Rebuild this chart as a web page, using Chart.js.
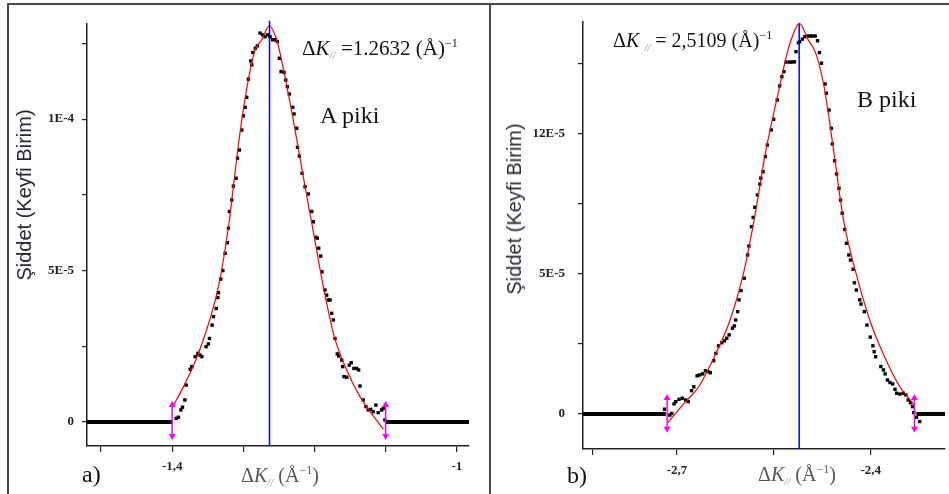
<!DOCTYPE html>
<html>
<head>
<meta charset="utf-8">
<script src="https://cdn.jsdelivr.net/npm/chart.js@4.4.1/dist/chart.umd.min.js"></script>
<style>
  body { margin: 0; width: 949px; height: 494px; background: #fff; position: relative; overflow: hidden; }
  canvas { position: absolute; top: 0; }
  #chartA { left: 0; }
  #chartB { left: 490px; }
  .frame { position: absolute; border-style: solid; border-color: #4a4a4a; pointer-events: none; }
  .txt { position: absolute; white-space: nowrap; font-family: "Liberation Serif", "Times New Roman", serif; color: #111; line-height: 1; }
  .ytitle { position: absolute; white-space: nowrap; line-height: 1; font-family: "Liberation Sans", Arial, sans-serif;
            font-size: 20px; color: #262636; transform: translate(-50%, -50%) rotate(-90deg); }
  .sb { font-size: 11px; font-style: italic; color: #8a93b0; vertical-align: -4px; }
  .sp { font-size: 12px; vertical-align: 8px; }
</style>
</head>
<body>
<canvas id="chartA" width="489" height="494"></canvas>
<canvas id="chartB" width="459" height="494"></canvas>

<div class="frame" style="left:7px; top:3px; width:480px; height:520px; border-width:2px 2px 0 2px;"></div>
<div class="frame" style="left:489px; top:3px; width:470px; height:0; border-width:2px 0 0 0;"></div>

<div class="ytitle" style="left:24px; top:195px;">Şiddet (Keyfi Birim)</div>
<div class="txt" style="left:302px; top:37px; font-size:21px;">Δ<i>K</i><span class="sb">//</span> =1.2632 (Å)<span class="sp">−1</span></div>
<div class="txt" style="left:320px; top:103px; font-size:24px;">A piki</div>
<div class="txt" style="left:82px; top:462px; font-size:24px;">a)</div>
<div class="txt" style="left:241px; top:464px; font-size:20px; color:#555;">Δ<i>K</i><span class="sb">//</span> (Å<span class="sp">−1</span>)</div>

<div class="ytitle" style="left:514px; top:209px;">Şiddet (Keyfi Birim)</div>
<div class="txt" style="left:613px; top:29px; font-size:20px;">Δ<i>K</i> <span class="sb">//</span> = 2,5109 (Å)<span class="sp">−1</span></div>
<div class="txt" style="left:857px; top:87px; font-size:24px;">B piki</div>
<div class="txt" style="left:567px; top:463px; font-size:24px;">b)</div>
<div class="txt" style="left:758px; top:463px; font-size:20px; color:#555;">Δ<i>K</i><span class="sb">//</span> (Å<span class="sp">−1</span>)</div>

<script>
// ---- panel a) : A piki ----
const aDataX = [-1.2765, -1.2727, -1.2695, -1.2803, -1.2831, -1.2867, -1.2895, -1.2881, -1.2929, -1.2952,
  -1.2975, -1.2999, -1.3022, -1.3055, -1.3083, -1.3102, -1.3140, -1.3162, -1.3196, -1.3210,
  -1.3224, -1.3256, -1.3288, -1.3316, -1.3350, -1.3359, -1.3382, -1.3420, -1.3439, -1.3476,
  -1.3491, -1.3523, -1.3583, -1.3607, -1.3639, -1.3677, -1.3724, -1.3747, -1.3804, -1.3822,
  -1.3855, -1.3878, -1.3912, -1.3944,
  -1.2662, -1.2625, -1.2587, -1.2550, -1.2522, -1.2494, -1.2470, -1.2428, -1.2404, -1.2382,
  -1.2354, -1.2306, -1.2288, -1.2250, -1.2239, -1.2213, -1.2175, -1.2133, -1.2087, -1.2039,
  -1.2017, -1.1983, -1.1961, -1.1941, -1.1913, -1.1895, -1.1853, -1.1829, -1.1806, -1.1782,
  -1.1759, -1.1736, -1.1712, -1.1680, -1.1660, -1.1618, -1.1604, -1.1586, -1.1548, -1.1512,
  -1.1484, -1.1446, -1.1408, -1.1380, -1.1361, -1.1315, -1.1277, -1.1245, -1.1211, -1.1175,
  -1.1137, -1.1105, -1.1057, -1.1034, -1.1011];
const aDataY = [12.84e-5, 12.78e-5, 12.72e-5, 12.42e-5, 12.34e-5, 12.20e-5, 11.92e-5, 11.79e-5, 11.32e-5, 10.72e-5,
  10.39e-5, 10.11e-5, 9.64e-5, 8.98e-5, 8.71e-5, 8.05e-5, 7.79e-5, 7.33e-5, 6.95e-5, 6.40e-5,
  5.92e-5, 5.57e-5, 5.00e-5, 4.72e-5, 4.27e-5, 4.11e-5, 3.75e-5, 3.48e-5, 3.20e-5, 2.76e-5,
  2.58e-5, 2.49e-5, 2.16e-5, 2.21e-5, 2.27e-5, 2.16e-5, 1.83e-5, 1.74e-5, 1.22e-5, 0.73e-5,
  0.49e-5, 0.40e-5, 0.16e-5, 0.12e-5,
  12.78e-5, 12.72e-5, 12.62e-5, 12.62e-5, 12.56e-5, 12.01e-5, 11.57e-5, 11.54e-5, 11.29e-5, 11.07e-5,
  10.83e-5, 10.39e-5, 10.17e-5, 9.70e-5, 9.07e-5, 8.78e-5, 8.21e-5, 7.77e-5, 7.53e-5, 6.95e-5,
  6.61e-5, 6.10e-5, 6.07e-5, 5.74e-5, 5.48e-5, 4.96e-5, 4.36e-5, 4.19e-5, 4.03e-5, 4.03e-5,
  3.59e-5, 3.37e-5, 2.76e-5, 2.25e-5, 2.18e-5, 2.05e-5, 1.83e-5, 1.50e-5, 1.48e-5, 1.88e-5,
  1.96e-5, 1.77e-5, 1.77e-5, 1.72e-5, 1.19e-5, 0.73e-5, 0.51e-5, 0.40e-5, 0.42e-5, 0.34e-5,
  0.56e-5, 0.31e-5, 0.40e-5, 0.45e-5, 0.07e-5];
const aFitX = [-1.3996, -1.3841, -1.3631, -1.3350, -1.3196, -1.3140, -1.3022, -1.2849, -1.2741, -1.2634,
  -1.2531, -1.2484, -1.2298, -1.2133, -1.2025, -1.1876, -1.1722, -1.1548, -1.1361, -1.1034];
const aFitY = [0.49e-5, 1.17e-5, 2.27e-5, 4.47e-5, 6.67e-5, 7.77e-5, 9.97e-5, 12.18e-5, 12.62e-5, 13.08e-5,
  12.62e-5, 12.18e-5, 9.97e-5, 7.77e-5, 6.40e-5, 4.47e-5, 2.82e-5, 1.72e-5, 0.84e-5, -0.24e-5];
const aZeroX = [[-1.5197, -1.4], [-1.1, -0.9829]];
const aPeak = -1.2632;
const aPeakTop = 13.25e-5;
const aArrowX = [-1.4, -1.1];
const aArrowY = [0.56e-5, -0.46e-5];
const aXTicks = [-1.5, -1.4, -1.3, -1.2, -1.1, -1.0];
const aXLabels = ['', '-1,4', '', '', '', '-1'];
const aYTicks = [0, 2.5e-5, 5e-5, 7.5e-5, 1e-4, 1.25e-4];
const aYLabels = ['0', '', '5E-5', '', '1E-4', ''];

// ---- panel b) : B piki ----
const bDataX = [-2.7194, -2.7112, -2.7081, -2.7046, -2.7020, -2.6969, -2.6919, -2.6867, -2.6827, -2.6775,
  -2.6740, -2.6689, -2.6652, -2.6602, -2.6560, -2.6521, -2.6484, -2.6433, -2.6398, -2.6357,
  -2.6306, -2.6265, -2.6230, -2.6193, -2.6142, -2.6112, -2.6092, -2.6061, -2.6040, -2.6009,
  -2.5959, -2.5908, -2.5887, -2.5847, -2.5821, -2.5795, -2.5755, -2.5718, -2.5703, -2.5668,
  -2.5632, -2.5602, -2.5541, -2.5504, -2.5449, -2.5412, -2.5377, -2.5346, -2.5311, -2.5259,
  -2.5224, -2.5182, -2.5158, -2.5121, -2.5101, -2.5060, -2.5020, -2.4979, -2.4937, -2.4897,
  -2.4861, -2.4825, -2.4795, -2.4764, -2.4708, -2.4688, -2.4646, -2.4611, -2.4596, -2.4560,
  -2.4530, -2.4493, -2.4469, -2.4443, -2.4404, -2.4377, -2.4340, -2.4315, -2.4274, -2.4254,
  -2.4224, -2.4172, -2.4152, -2.4101, -2.4060, -2.4009, -2.3968, -2.3948, -2.3926, -2.3845,
  -2.3804, -2.3779, -2.3743, -2.3703, -2.3662, -2.3626, -2.3600, -2.3550, -2.3498, -2.3458,
  -2.3421, -2.3386, -2.3355, -2.3335, -2.3294, -2.3243];
const bDataY = [0.17e-5, -0.04e-5, 0.02e-5, 0.36e-5, 0.44e-5, 0.52e-5, 0.56e-5, 0.50e-5, 0.44e-5, 0.83e-5,
  0.97e-5, 1.36e-5, 1.39e-5, 1.43e-5, 1.54e-5, 1.51e-5, 1.47e-5, 1.90e-5, 2.16e-5, 2.43e-5,
  2.54e-5, 2.61e-5, 2.70e-5, 2.82e-5, 3.06e-5, 3.14e-5, 3.35e-5, 3.65e-5, 4.07e-5, 4.40e-5,
  4.84e-5, 5.67e-5, 5.99e-5, 6.68e-5, 7.01e-5, 7.37e-5, 7.81e-5, 8.20e-5, 8.41e-5, 8.64e-5,
  9.18e-5, 9.59e-5, 10.13e-5, 10.51e-5, 11.20e-5, 11.70e-5, 12.03e-5, 12.21e-5, 12.55e-5, 12.55e-5,
  12.55e-5, 12.56e-5, 12.92e-5, 13.24e-5, 13.28e-5, 13.37e-5, 13.46e-5, 13.48e-5, 13.48e-5, 13.48e-5,
  13.48e-5, 13.31e-5, 12.89e-5, 12.51e-5, 11.77e-5, 11.44e-5, 10.84e-5, 10.19e-5, 9.63e-5, 9.03e-5,
  8.56e-5, 8.05e-5, 7.63e-5, 7.16e-5, 6.58e-5, 6.09e-5, 5.67e-5, 5.49e-5, 5.16e-5, 4.68e-5,
  4.42e-5, 4.07e-5, 3.92e-5, 3.65e-5, 3.17e-5, 2.74e-5, 2.43e-5, 2.22e-5, 2.04e-5, 1.69e-5,
  1.57e-5, 1.43e-5, 1.21e-5, 1.12e-5, 1.07e-5, 0.88e-5, 0.74e-5, 0.71e-5, 0.74e-5, 0.68e-5,
  0.50e-5, 0.40e-5, 0.26e-5, 0.05e-5, -0.12e-5, -0.27e-5];
const bFitX = [-2.7149, -2.6867, -2.6663, -2.6398, -2.6178, -2.5959, -2.5806, -2.5632, -2.5412, -2.5296,
  -2.5234, -2.5106, -2.4968, -2.4851, -2.4723, -2.4570, -2.4423, -2.4239, -2.4009, -2.3779,
  -2.3550, -2.3371, -2.3320];
const bFitY = [-0.33e-5, 0.44e-5, 0.97e-5, 2.16e-5, 3.35e-5, 5.14e-5, 6.92e-5, 9.30e-5, 11.67e-5, 12.86e-5,
  13.34e-5, 13.93e-5, 13.34e-5, 12.86e-5, 11.67e-5, 9.30e-5, 6.92e-5, 5.10e-5, 3.30e-5, 2.00e-5,
  0.97e-5, 0.44e-5, 0.28e-5];
const bZeroX = [[-2.8455, -2.7173], [-2.3294, -2.2852]];
const bPeak = -2.5109;
const bPeakTop = 13.91e-5;
const bArrowX = [-2.7153, -2.3325];
const bArrowY = [0.57e-5, -0.53e-5];
const bXTicks = [-2.83, -2.7, -2.55, -2.4];
const bXLabels = ['', '-2,7', '', '-2,4'];
const bYTicks = [0, 2.5e-5, 5e-5, 7.5e-5, 1e-4, 1.25e-4];
const bYLabels = ['0', '', '5E-5', '', '12E-5', ''];

const pts = (xs, ys) => xs.map((x, i) => ({ x: x, y: ys[i] }));
const tickFont = { family: 'Liberation Serif', size: 13, weight: 'bold' };

function drawPanel(id, p) {
  const datasets = [];
  // magenta double arrows
  p.arrowX.forEach(ax => datasets.push({
    data: [{ x: ax, y: p.arrowY[0] }, { x: ax, y: p.arrowY[1] }],
    showLine: true, borderColor: '#ff00ff', borderWidth: 1.5,
    pointStyle: 'triangle', pointRadius: 4, pointRotation: [0, 180],
    pointBackgroundColor: '#ff00ff', pointBorderColor: '#ff00ff', pointBorderWidth: 0
  }));
  // blue peak position line
  datasets.push({
    data: [{ x: p.peak, y: p.yMin }, { x: p.peak, y: p.peakTop }],
    showLine: true, borderColor: '#0000ff', borderWidth: 1.5, pointRadius: 0, clip: false
  });
  // red fit
  datasets.push({
    data: pts(p.fitX, p.fitY), showLine: true, borderColor: '#ff0000', borderWidth: 1.2,
    pointRadius: 0, cubicInterpolationMode: 'monotone'
  });
  // measured points
  datasets.push({
    data: pts(p.dataX, p.dataY), pointStyle: 'rect', pointRadius: 2.4,
    pointBackgroundColor: '#000', pointBorderWidth: 0
  });
  // flat zero background
  p.zeroX.forEach(z => datasets.push({
    data: [{ x: z[0], y: 0 }, { x: z[1], y: 0 }],
    showLine: true, borderColor: '#000', borderWidth: 4, pointRadius: 0
  }));

  return new Chart(document.getElementById(id), {
    type: 'scatter',
    data: { datasets: datasets },
    options: {
      responsive: false,
      animation: false,
      events: [],
      layout: { padding: p.padding },
      plugins: { legend: { display: false }, tooltip: { enabled: false } },
      scales: {
        x: {
          type: 'linear', min: p.xMin, max: p.xMax,
          afterBuildTicks: s => { s.ticks = p.xTicks.map(v => ({ value: v })); },
          afterFit: s => { s.height = p.xHeight; },
          border: { display: true, color: '#222', width: 1.5 },
          grid: { display: true, drawOnChartArea: false, drawTicks: true, tickLength: 6, color: '#222', lineWidth: 1.2 },
          ticks: { autoSkip: false, maxRotation: 0, padding: p.xPad, color: '#222', font: tickFont,
                   callback: (v, i) => p.xLabels[i] }
        },
        y: {
          type: 'linear', min: p.yMin, max: p.yMax,
          afterBuildTicks: s => { s.ticks = p.yTicks.map(v => ({ value: v })); },
          afterFit: s => { s.width = p.yWidth; },
          border: { display: true, color: '#222', width: 1.5 },
          grid: { display: true, drawOnChartArea: false, drawTicks: true, tickLength: 5, color: '#222', lineWidth: 1.2 },
          ticks: { autoSkip: false, padding: p.yPad, color: '#222', font: tickFont,
                   callback: (v, i) => p.yLabels[i] }
        }
      }
    }
  });
}

drawPanel('chartA', {
  dataX: aDataX, dataY: aDataY, fitX: aFitX, fitY: aFitY, zeroX: aZeroX,
  peak: aPeak, peakTop: aPeakTop, arrowX: aArrowX, arrowY: aArrowY,
  xTicks: aXTicks, xLabels: aXLabels, yTicks: aYTicks, yLabels: aYLabels,
  xMin: -1.5197, xMax: -0.9829, yMin: -0.79e-5, yMax: 13.14e-5,
  padding: { left: 0, top: 24, right: 20, bottom: 0 }, yWidth: 87, xHeight: 48, xPad: 7, yPad: 8
});

drawPanel('chartB', {
  dataX: bDataX, dataY: bDataY, fitX: bFitX, fitY: bFitY, zeroX: bZeroX,
  peak: bPeak, peakTop: bPeakTop, arrowX: bArrowX, arrowY: bArrowY,
  xTicks: bXTicks, xLabels: bXLabels, yTicks: bYTicks, yLabels: bYLabels,
  xMin: -2.8455, xMax: -2.2852, yMin: -1.25e-5, yMax: 13.98e-5,
  padding: { left: 0, top: 22, right: 0, bottom: 0 }, yWidth: 93, xHeight: 45, xPad: 8, yPad: 13
});
</script>
</body>
</html>
